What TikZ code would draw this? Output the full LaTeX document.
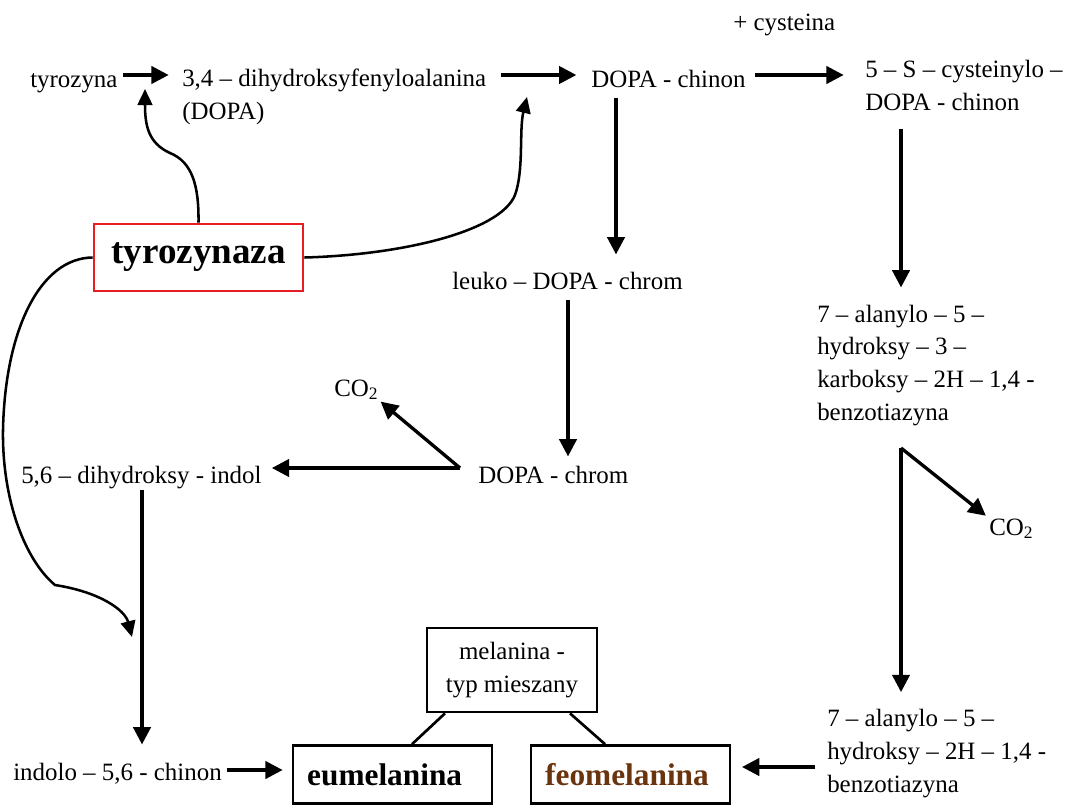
\documentclass[tikz,border=0pt]{standalone}
\usepackage{fontspec}
\setmainfont{Liberation Serif}
\usetikzlibrary{arrows.meta,calc}
\definecolor{enzred}{RGB}{232,28,36}
\definecolor{feobrown}{RGB}{105,52,14}
\begin{document}
\begin{tikzpicture}[x=0.75pt,y=-0.75pt,
  lbl/.style={inner sep=0pt, anchor=base west, align=left,
    font=\fontsize{18.7}{24.5}\selectfont},
  arr/.style={line width=2.5pt, -{Triangle[length=13pt,width=13pt]}},
  curvearr/.style={line width=1.9pt, -{Triangle[length=12pt,width=11pt]}},
  ln/.style={line width=2pt},
  pbox/.style={draw, line width=2pt, minimum width=149.25pt, minimum height=43.5pt,
    inner xsep=10pt, text width=128pt, align=left,
    font=\fontsize{23.5}{28}\selectfont\bfseries},
  mixbox/.style={draw, line width=2pt, minimum width=127.5pt, minimum height=63pt,
    align=center, font=\fontsize{18.7}{24.5}\selectfont},
  enzbox/.style={draw=enzred, line width=2pt, minimum width=156.75pt, minimum height=50.25pt,
    font=\fontsize{27.8}{32}\selectfont\bfseries}
]
\useasboundingbox (0,0) rectangle (1080,810);

% column / row helpers
\coordinate (row1) at (0,75);
\coordinate (rowF) at (0,767);
\coordinate (rowE) at (0,770);
\coordinate (colA) at (616,0);
\coordinate (colB) at (901,0);
\coordinate (colC) at (568,0);
\coordinate (colD) at (142,0);
\coordinate (j1) at (460,468);
\coordinate (j2) at (901,448);
\coordinate (t1) at (145,89);
\coordinate (t2) at (527,97);
\coordinate (t3) at (132,637);

% texts (multi-line nodes are placed by the baseline of their last line)
\node[lbl] (cyslbl) at (733,30) {+ cysteina};
\node[lbl] (tyr) at (30,87) {tyrozyna};
\node[lbl] (dopa) at (182,119) {3,4 – dihydroksyfenyloalanina\\(DOPA)};
\node[lbl] (dch) at (591,87) {DOPA - chinon};
\node[lbl] (cys) at (865,110) {5 – S – cysteinylo –\\DOPA - chinon};
\node[lbl] (leuko) at (452,289) {leuko – DOPA - chrom};
\node[lbl] (dchrom) at (478,483) {DOPA - chrom};
\node[lbl] (co2a) at (334,396) {CO\textsubscript{2}};
\node[lbl] (indol) at (21,483) {5,6 – dihydroksy - indol};
\node[lbl] (indolo) at (13,780) {indolo – 5,6 - chinon};
\node[lbl] (ala1) at (817,420) {7 – alanylo – 5 –\\hydroksy – 3 –\\karboksy – 2H – 1,4 -\\benzotiazyna};
\node[lbl] (co2b) at (989,535) {CO\textsubscript{2}};
\node[lbl] (ala2) at (827,792) {7 – alanylo – 5 –\\hydroksy – 2H – 1,4 -\\benzotiazyna};

% boxes
\node[enzbox] (enz) at (198.5,257.5) {tyrozynaza};
\node[pbox] (eu) at (392.5,774.5) {eumelanina};
\node[pbox, text=feobrown] (feo) at (630.5,774.5) {feomelanina};
\node[mixbox] (mix) at (512,670) {melanina -\\typ mieszany};

% horizontal arrows, top row
\draw[arr, shorten <=4pt, shorten >=10pt] (tyr.east |- row1) -- (dopa.west |- row1);
\draw[arr, shorten <=10.5pt, shorten >=11pt] (dopa.east |- row1) -- (dch.west |- row1);
\draw[arr, shorten <=7pt, shorten >=16pt] (dch.east |- row1) -- (cys.west |- row1);

% vertical arrows
\draw[arr, shorten <=7.5pt, shorten >=12.75pt] (dch.south -| colA) -- (leuko.north -| colA);
\draw[arr, shorten <=8pt, shorten >=6.75pt] (leuko.south -| colC) -- (dchrom.north -| colC);
\draw[arr, shorten <=13.5pt, shorten >=12.75pt] (cys.south -| colB) -- (ala1.north -| colB);
\draw[arr, shorten <=1pt, shorten >=13.5pt] (indol.south -| colD) -- (indolo.north -| colD);

% DOPA-chrom branch
\draw[arr, shorten >=7.5pt] (j1) -- (indol.east |- j1);
\draw[arr, shorten >=2pt] (j1) -- (co2a.south east);

% right V branch
\draw[arr, shorten >=12.75pt] (j2) -- (ala2.north -| colB);
\draw[arr, shorten >=3pt] (j2) -- (co2b.north west);

% arrows into pigments
\draw[arr, shorten <=3.4pt, shorten >=6.75pt] (indolo.east |- rowE) -- (eu.west |- rowE);
\draw[arr, shorten <=9pt, shorten >=8pt] (ala2.west |- rowF) -- (feo.east |- rowF);

% mixed type links
\draw[ln] ($(mix.south)+(-67,0)$) -- ($(eu.north)+(19.5,0)$);
\draw[ln] ($(mix.south)+(58,0)$) -- ($(feo.north)+(-25.5,0)$);

% tyrozynaza curves
\draw[curvearr] (enz.north) .. controls (199,185) and (192,162) .. (170,153)
  .. controls (148,143) and (145,125) .. (t1);
\draw[curvearr] (enz.east) .. controls (400,255) and (500,232) .. (515,195)
  .. controls (524,170) and (519,130) .. (t2);
\draw[curvearr] (enz.west) .. controls (40,258) and (5,330) .. (3,430)
  .. controls (2,500) and (25,560) .. (55,585)
  .. controls (100,592) and (125,610) .. (t3);
\end{tikzpicture}
\end{document}
